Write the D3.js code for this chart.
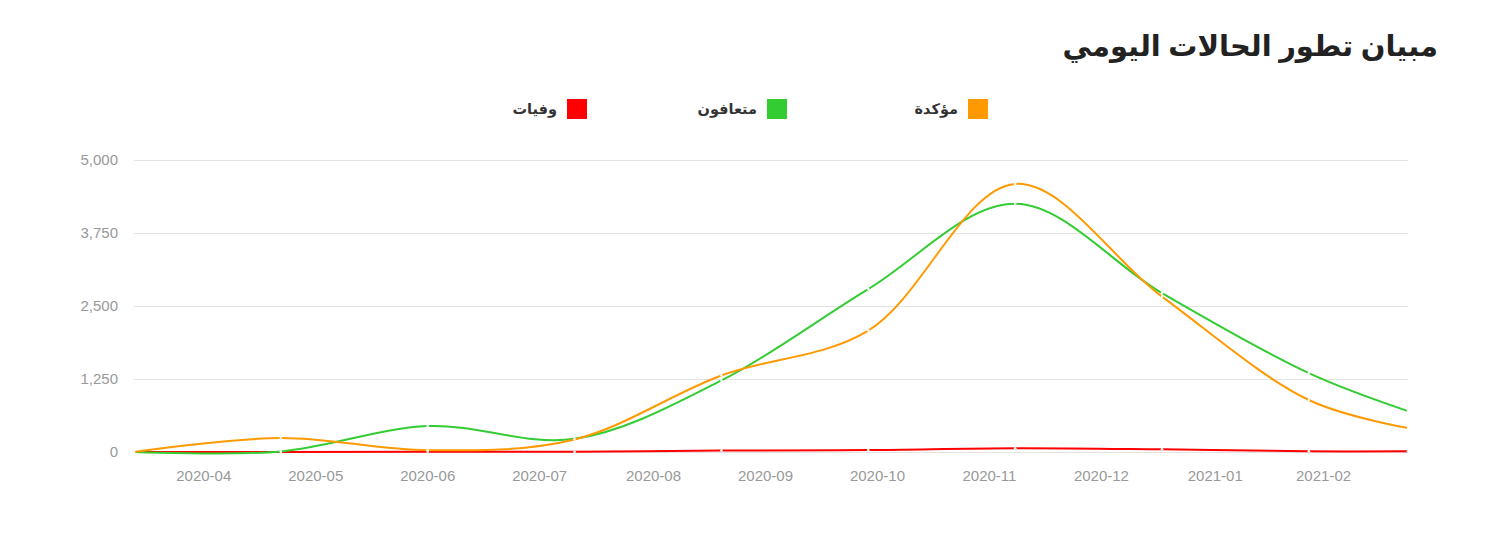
<!DOCTYPE html>
<html lang="ar">
<head>
<meta charset="utf-8">
<script src="https://cdn.jsdelivr.net/npm/d3@7"></script>
<style>
  body { margin: 0; background: #fff; }
  #chart { width: 1500px; height: 544px; }
</style>
</head>
<body>
<div id="chart"></div>
<script>
// data
var dates = ["2020-03-28", "2020-05-07", "2020-06-16", "2020-07-26", "2020-09-04",
             "2020-10-14", "2020-11-23", "2021-01-02", "2021-02-11", "2021-03-10"];
var confirmed = [0, 240, 30, 215, 1310, 2080, 4590, 2660, 890, 410];
var recovered = [0, 10, 445, 225, 1225, 2790, 4250, 2720, 1350, 700];
var deaths = [0, 2, 3, 4, 25, 35, 65, 45, 12, 12];
var seriesNames = ["مؤكدة", "متعافون", "وفيات"];
var seriesColors = ["#ff9900", "#33cc33", "#ff0000"];
var yTicks = [0, 1250, 2500, 3750, 5000];
var monthLabels = ["2020-04", "2020-05", "2020-06", "2020-07", "2020-08", "2020-09",
                   "2020-10", "2020-11", "2020-12", "2021-01", "2021-02"];
var title = "مبيان تطور الحالات اليومي";

(function () {
    var width = 1500, height = 544;
    var margin = { left: 134, right: 92, top: 160, bottom: 92 }; // plot: x 134..1408, y 160..452
    var parse = d3.timeParse("%Y-%m-%d");
    var parseMonth = d3.timeParse("%Y-%m");

    var svg = d3.select("#chart").append("svg")
        .attr("width", width)
        .attr("height", height);

    var x = d3.scaleTime()
        .domain([parse(dates[0]), parse(dates[dates.length - 1])])
        .range([margin.left, width - margin.right]);

    var y = d3.scaleLinear()
        .domain([0, 5000])
        .range([height - margin.bottom, margin.top]);

    // title (rtl: "start" anchors on the right)
    svg.append("text")
        .attr("x", 1438)
        .attr("y", 56)
        .attr("text-anchor", "start")
        .attr("direction", "rtl")
        .style("font-family", "'Noto Sans', 'DejaVu Sans', sans-serif")
        .style("font-weight", "bold")
        .style("font-size", "29px")
        .style("fill", "#222")
        .text(title);

    // legend
    var legendX = [968, 767, 567];
    seriesNames.forEach(function (name, i) {
        svg.append("rect")
            .attr("x", legendX[i])
            .attr("y", 99)
            .attr("width", 20)
            .attr("height", 20)
            .attr("fill", seriesColors[i]);
        svg.append("text")
            .attr("x", legendX[i] - 10)
            .attr("y", 114)
            .attr("text-anchor", "start")
            .attr("direction", "rtl")
            .style("font-family", "'Noto Sans', 'DejaVu Sans', sans-serif")
            .style("font-weight", "bold")
            .style("font-size", "14.5px")
            .style("fill", "#333")
            .text(name);
    });

    // y gridlines + labels
    var yAxis = svg.append("g")
        .attr("transform", "translate(" + margin.left + ",0)")
        .call(d3.axisLeft(y)
            .tickValues(yTicks)
            .tickSize(-(width - margin.left - margin.right))
            .tickPadding(16)
            .tickFormat(d3.format(",")));
    yAxis.select(".domain").remove();
    yAxis.selectAll("line").style("stroke", "#e3e3e3");
    yAxis.selectAll("text")
        .style("fill", "#999")
        .style("font-family", "'Liberation Sans', Arial, sans-serif")
        .style("font-size", "15px");

    // month labels, centered in each month
    var xAxis = svg.append("g");
    monthLabels.forEach(function (m) {
        var start = parseMonth(m);
        var end = d3.timeMonth.offset(start, 1);
        xAxis.append("text")
            .attr("x", (x(start) + x(end)) / 2)
            .attr("y", 481)
            .attr("text-anchor", "middle")
            .style("fill", "#999")
            .style("font-family", "'Liberation Sans', Arial, sans-serif")
            .style("font-size", "15px")
            .text(m);
    });

    // lines
    var line = d3.line()
        .x(function (d) { return x(d.date); })
        .y(function (d) { return y(d.value); })
        .curve(d3.curveCatmullRom.alpha(0.5));

    var allSeries = [confirmed, recovered, deaths];
    // draw deaths first, then recovered, then confirmed on top
    [2, 1, 0].forEach(function (i) {
        var pts = dates.map(function (d, j) {
            return { date: parse(d), value: allSeries[i][j] };
        });
        svg.append("path")
            .datum(pts)
            .attr("fill", "none")
            .attr("stroke", seriesColors[i])
            .attr("stroke-width", 2)
            .attr("d", line);
        svg.selectAll(".pt" + i)
            .data(pts)
            .enter().append("circle")
            .attr("class", "pt" + i)
            .attr("cx", function (d) { return x(d.date); })
            .attr("cy", function (d) { return y(d.value); })
            .attr("r", 1.3)
            .attr("fill", "#fff");
    });
})();
</script>
</body>
</html>
